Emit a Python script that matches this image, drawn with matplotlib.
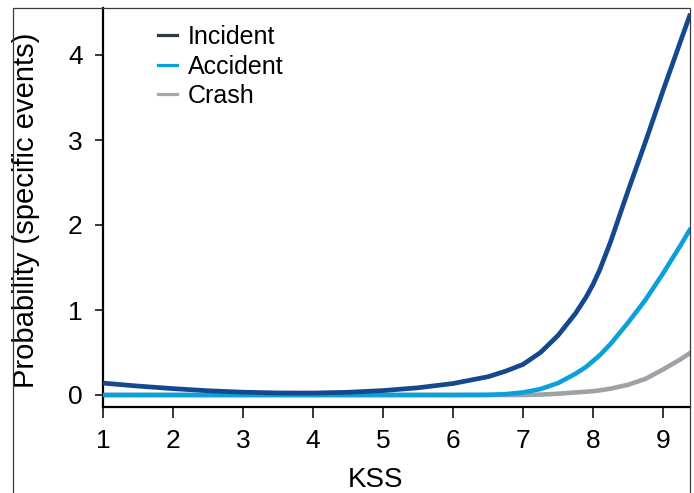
import matplotlib
matplotlib.use("Agg")
import matplotlib.pyplot as plt
from matplotlib.lines import Line2D
from matplotlib.patches import Rectangle

plt.rcParams['font.family'] = ['Liberation Sans', 'DejaVu Sans']

kss = [1, 1.5, 2, 2.5, 3, 3.5, 4, 4.5, 5, 5.5, 6, 6.5, 6.75, 7, 7.25, 7.5, 7.75,
       7.9, 8, 8.1, 8.25, 8.5, 8.75, 9, 9.25, 9.38]
incident = [0.14, 0.105, 0.075, 0.05, 0.033, 0.024, 0.023, 0.032, 0.052, 0.085,
            0.135, 0.215, 0.28, 0.36, 0.5, 0.7, 0.96, 1.15, 1.3, 1.48, 1.8, 2.4,
            2.98, 3.58, 4.16, 4.46]
accident = [0, 0, 0, 0, 0, 0, 0, 0, 0, 0, 0, 0.002, 0.01, 0.03, 0.07, 0.14, 0.25,
            0.33, 0.4, 0.47, 0.6, 0.85, 1.12, 1.43, 1.76, 1.94]
crash = [0, 0, 0, 0, 0, 0, 0, 0, 0, 0, 0, 0, 0, 0.0, 0.005, 0.015, 0.03, 0.039,
         0.045, 0.055, 0.075, 0.12, 0.19, 0.3, 0.42, 0.49]

series_labels = ["Incident", "Accident", "Crash"]
line_colors = {"Incident": "#15498f", "Accident": "#0aa1db", "Crash": "#9ea2a6"}
legend_colors = {"Incident": "#2a3d4d", "Accident": "#0aa1db", "Crash": "#a4a8ac"}
xticks = [1, 2, 3, 4, 5, 6, 7, 8, 9]
yticks = [0, 1, 2, 3, 4]

W, H = 694, 493
fig = plt.figure(figsize=(W / 100, H / 100), dpi=100)
ax = fig.add_axes([103 / W, (H - 407) / H, (690 - 103) / W, (407 - 8) / H])

ax.plot(kss, crash, color=line_colors["Crash"], lw=3.3, zorder=2)
ax.plot(kss, accident, color=line_colors["Accident"], lw=3.3, zorder=3)
ax.plot(kss, incident, color=line_colors["Incident"], lw=3.4, zorder=4)

ax.set_xlim(1, 1 + (690 - 103) / 70)
ax.set_ylim(-12 / 85, (395 - 8) / 85)
ax.set_xticks(xticks)
ax.set_yticks(yticks)
ax.tick_params(axis='both', labelsize=19, width=1.1, color='black')
ax.tick_params(axis='x', length=8, pad=8)
ax.tick_params(axis='y', length=6, pad=8.5)
for s in ['top', 'right']:
    ax.spines[s].set_visible(False)
for s in ['left', 'bottom']:
    ax.spines[s].set_linewidth(1.6)

ax.set_xlabel("KSS", fontsize=20)
ax.set_ylabel("Probability (specific events)", fontsize=21)
ax.xaxis.set_label_coords(0.464, (407 - 467) / 399)
ax.yaxis.set_label_coords((40 - 103) / 587, 0.494)

handles = [Line2D([0], [0], color=legend_colors[l], lw=2.3) for l in series_labels]
ax.legend(handles, series_labels, loc='upper left',
          bbox_to_anchor=((158 - 103) / 587, (407 - 25) / 399),
          frameon=False, fontsize=18, handlelength=0.76, handletextpad=0.44,
          labelspacing=0.22, borderaxespad=0, borderpad=0)

fig.add_artist(Rectangle((13 / W, -0.05), (690 - 13) / W, 0.05 + (H - 8) / H,
                         transform=fig.transFigure, fill=False, lw=0.9,
                         edgecolor='#3a3a3a', clip_on=False))

fig.savefig("out.png", dpi=100)
